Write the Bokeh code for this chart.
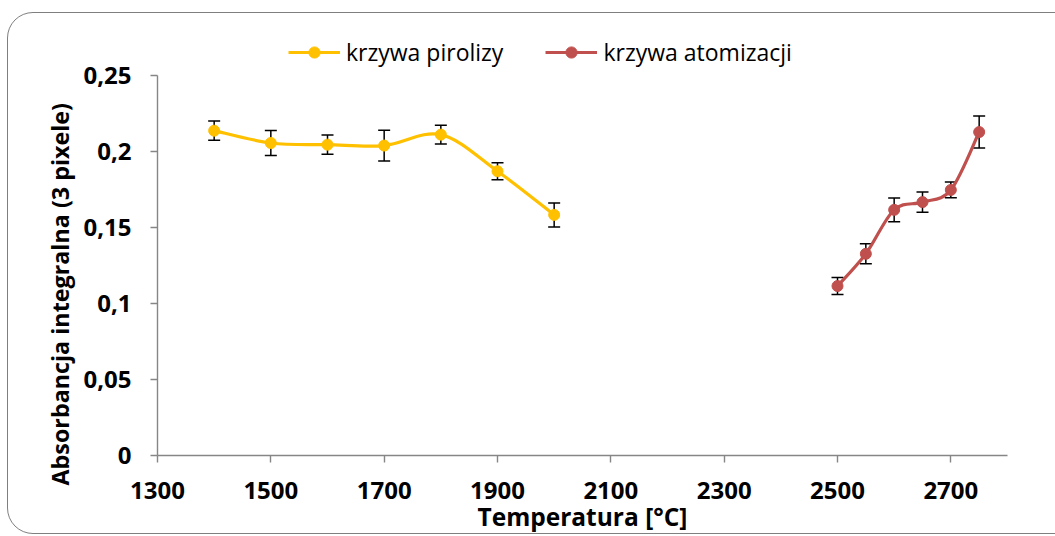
from bokeh.plotting import figure
from bokeh.models import (ColumnDataSource, Whisker, TeeHead, Legend, LegendItem,
                          FixedTicker, Range1d, InlineStyleSheet, Title)
from bokeh.embed import file_html
from bokeh.resources import INLINE

# ---- data ----
pyro_temp = [1400, 1500, 1600, 1700, 1800, 1900, 2000]
pyro_abs = [0.2137, 0.2056, 0.2045, 0.2039, 0.2111, 0.1870, 0.1583]
pyro_err = [0.0063, 0.0082, 0.0063, 0.0101, 0.0062, 0.0056, 0.0079]

atom_temp = [2500, 2550, 2600, 2650, 2700, 2750]
atom_abs = [0.1115, 0.1327, 0.1616, 0.1667, 0.1747, 0.2128]
atom_err = [0.0056, 0.0066, 0.0078, 0.0066, 0.0052, 0.0105]

x_ticks = [1300, 1500, 1700, 1900, 2100, 2300, 2500, 2700]
y_ticks = [0, 0.05, 0.1, 0.15, 0.2, 0.25]
y_tick_labels = ["0", "0,05", "0,1", "0,15", "0,2", "0,25"]

series_names = ["krzywa pirolizy", "krzywa atomizacji"]
series_colors = ["#FFC000", "#C0504D"]

x_title = "Temperatura [°C]"
y_title = "Absorbancja integralna (3 pixele)"

FONT = "Open Sans"

# layout (pixels): axis 0..0.25 spans 380 px; frame extends above it for the legend
FRAME_TOP, FRAME_BOTTOM, AXIS_TOP = 20, 455, 75
Y_MAX = y_ticks[-1] * (FRAME_BOTTOM - FRAME_TOP) / (FRAME_BOTTOM - AXIS_TOP)


def smooth_segments(xs, ys):
    """Cubic Bezier segments (Catmull-Rom style) through the data points."""
    n = len(xs)
    d = dict(x0=[], y0=[], x1=[], y1=[], cx0=[], cy0=[], cx1=[], cy1=[])
    for i in range(n - 1):
        a = max(i - 1, 0)
        b = min(i + 2, n - 1)
        d["x0"].append(xs[i]); d["y0"].append(ys[i])
        d["x1"].append(xs[i + 1]); d["y1"].append(ys[i + 1])
        d["cx0"].append(xs[i] + (xs[i + 1] - xs[a]) / 6.0)
        d["cy0"].append(ys[i] + (ys[i + 1] - ys[a]) / 6.0)
        d["cx1"].append(xs[i + 1] - (xs[b] - xs[i]) / 6.0)
        d["cy1"].append(ys[i + 1] - (ys[b] - ys[i]) / 6.0)
    return ColumnDataSource(d)


border_css = InlineStyleSheet(css="""
:host { position: relative; overflow: hidden; }
:host::after {
  content: "";
  position: absolute;
  left: 7px; top: 12px;
  width: 1075px; height: 520px;
  border: 1.3px solid #7f7f7f;
  border-radius: 26px;
  pointer-events: none;
}
""")

p = figure(width=1055, height=536, output_backend="svg", toolbar_location=None,
           x_range=Range1d(1300, 2800), y_range=Range1d(0, Y_MAX),
           min_border_left=157, min_border_right=48,
           min_border_top=FRAME_TOP, min_border_bottom=536 - FRAME_BOTTOM,
           stylesheets=[border_css])
p.outline_line_color = None
p.xgrid.visible = False
p.ygrid.visible = False
p.background_fill_color = "white"
p.border_fill_color = "white"

legend_items = []
for name, color, xs, ys, es in [
        (series_names[0], series_colors[0], pyro_temp, pyro_abs, pyro_err),
        (series_names[1], series_colors[1], atom_temp, atom_abs, atom_err)]:
    src = ColumnDataSource(dict(x=xs, y=ys,
                                lo=[v - e for v, e in zip(ys, es)],
                                hi=[v + e for v, e in zip(ys, es)]))
    w = Whisker(source=src, base="x", upper="hi", lower="lo",
                line_color="black", line_width=1.5,
                upper_head=TeeHead(size=12, line_color="black", line_width=1.5),
                lower_head=TeeHead(size=12, line_color="black", line_width=1.5),
                level="underlay")
    p.add_layout(w)
    cr = p.bezier(x0="x0", y0="y0", x1="x1", y1="y1", cx0="cx0", cy0="cy0",
                  cx1="cx1", cy1="cy1", source=smooth_segments(xs, ys),
                  line_color=color, line_width=3.2)
    sr = p.scatter("x", "y", source=src, size=11, marker="circle",
                   fill_color=color, line_color=color)
    legend_items.append(LegendItem(label=name, renderers=[cr, sr], index=0))

legend = Legend(items=legend_items, orientation="horizontal",
                location=(131, FRAME_BOTTOM - 68),
                glyph_width=52, glyph_height=28, label_standoff=6, spacing=42,
                padding=0, margin=0, border_line_alpha=0, background_fill_alpha=0,
                label_text_font=FONT, label_text_font_size="23px",
                label_text_color="black")
p.add_layout(legend, "center")

AX_COL = "#868686"
for ax in (p.xaxis[0], p.yaxis[0]):
    ax.axis_line_color = AX_COL
    ax.axis_line_width = 1.4
    ax.major_tick_line_color = AX_COL
    ax.major_tick_line_width = 1.4
    ax.major_tick_out = 7
    ax.major_tick_in = 0
    ax.minor_tick_line_color = None
    ax.major_label_text_font = FONT
    ax.major_label_text_font_style = "bold"
    ax.major_label_text_font_size = "24px"
    ax.major_label_text_color = "black"
    ax.axis_label_text_font = FONT
    ax.axis_label_text_font_style = "bold"
    ax.axis_label_text_font_size = "24.5px"
    ax.axis_label_text_color = "black"

p.xaxis.ticker = FixedTicker(ticks=x_ticks)
p.yaxis.ticker = FixedTicker(ticks=y_ticks)
p.yaxis.bounds = (y_ticks[0], y_ticks[-1])
p.yaxis.major_label_overrides = {t: lab for t, lab in zip(y_ticks, y_tick_labels)}
p.xaxis.axis_label = x_title
p.xaxis.major_label_standoff = 19
p.yaxis.major_label_standoff = 19
p.xaxis.axis_label_standoff = -2

# y-axis title as a left-side title so it can be centred on the 0..0.25 axis
ytitle = Title(text=y_title, align="left", offset=-30, standoff=10,
               text_font=FONT, text_font_style="bold", text_font_size="23.3px",
               text_color="black")
p.add_layout(ytitle, "left")

open("out.html", "w").write(file_html(p, INLINE))
